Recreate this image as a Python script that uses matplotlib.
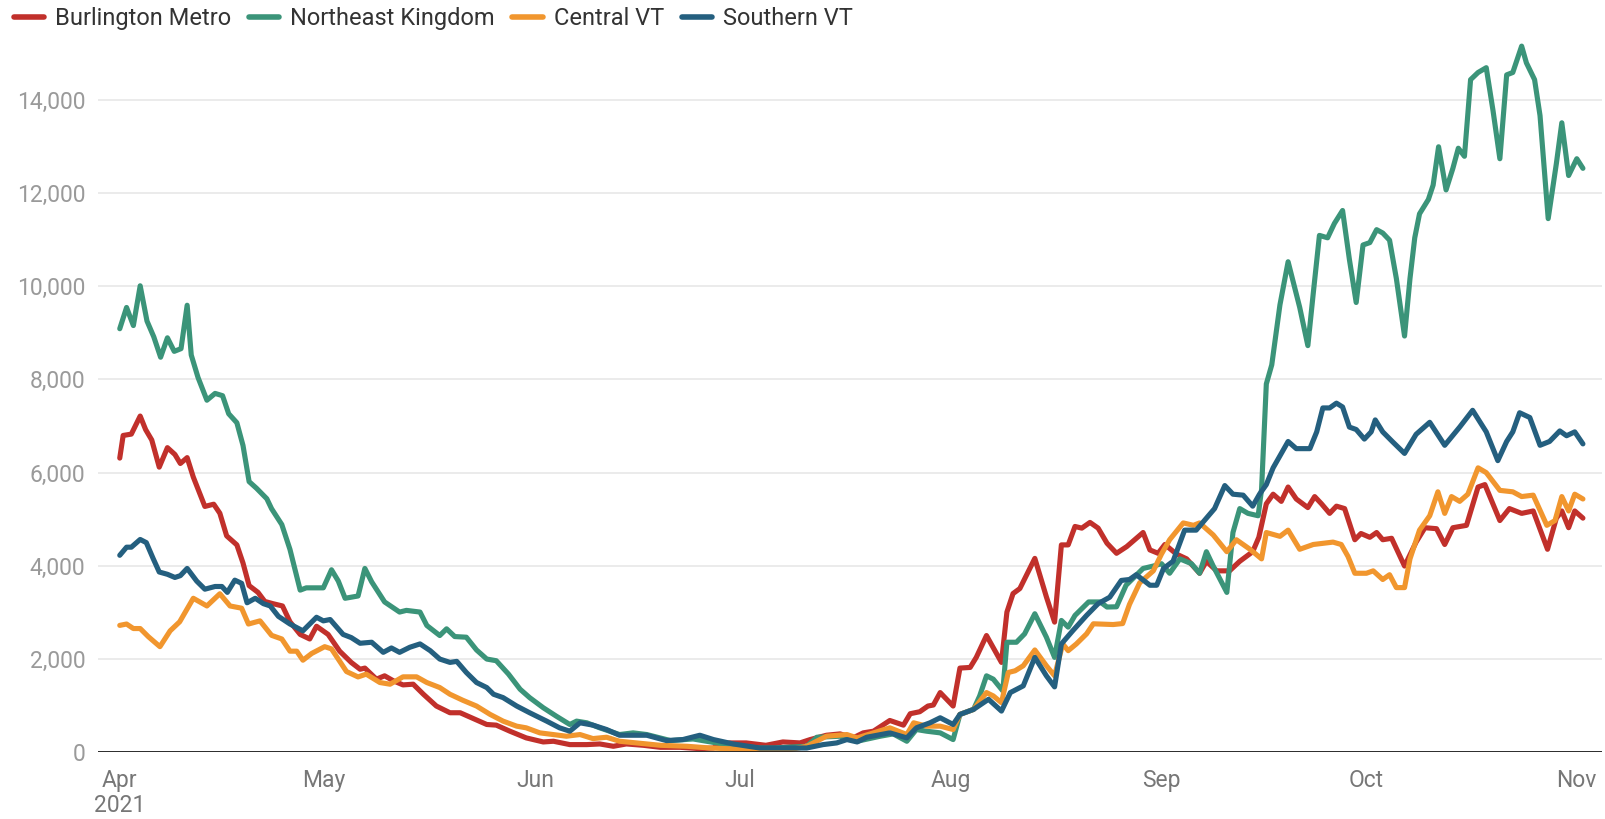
import matplotlib
matplotlib.use("Agg")
import matplotlib.pyplot as plt
import matplotlib.dates as mdates
from matplotlib.lines import Line2D
from datetime import datetime
import numpy as np

plt.rcParams['font.family'] = ['Roboto', 'DejaVu Sans']

# days since 2021-04-01
burlington_days = [0, 0.5, 1.7, 3, 3.8, 4.7, 5.8, 7, 8.1, 8.9, 9.9, 10.8, 12.5, 13.8, 14.7, 15.7, 17.2, 18.1, 19, 20.3,
                   21.3, 22.5, 23.9, 25, 26.5, 27.9, 28.9, 30.6, 32.3, 34, 35.3, 36, 37.7, 38.9, 40.2, 41.6, 43.1, 44.6,
                   46.5, 48.5, 50, 51.9, 53.9, 55.3, 57.3, 59.7, 62.2, 63.7, 66.1, 68.6, 70.5, 72.5, 74.4, 76.9, 79.4,
                   82.3, 85.2, 87.2, 88.1, 89.6, 92, 94.9, 97.4, 99.9, 101.4, 103.8, 105.8, 107.7, 109.2, 110.7, 113.1,
                   115.1, 116.1, 117.5, 118.7, 119.5, 120.5, 122.4, 123.4, 124.9, 125.8, 127.3, 129.5, 130.3, 131.2,
                   132.2, 134.4, 136.1, 137.3, 138.3, 139.3, 140.3, 141.3, 142.5, 143.7, 145, 146.4, 147.9, 150.3,
                   151.3, 152.5, 153.5, 155.2, 156.7, 158.6, 159.6, 161.1, 163, 164.5, 166.4, 167.3, 168.4, 169.4,
                   170.6, 171.6, 172.8, 174.5, 175.5, 176.5, 177.7, 178.7, 179.9, 181.4, 182.3, 183.6, 184.6, 185.5,
                   186.8, 188.7, 190.4, 191.7, 193.4, 194.6, 195.8, 197.8, 199.5, 200.5, 202.7, 204.1, 205.9, 207.6,
                   209.7, 211, 211.8, 212.8, 213.7, 214.9]
burlington_vals = [6311, 6797, 6826, 7214, 6923, 6700, 6117, 6535, 6389, 6195, 6321, 5904, 5273, 5321, 5127, 4641, 4447,
                   4059, 3573, 3428, 3233, 3185, 3136, 2796, 2525, 2427, 2700, 2525, 2165, 1923, 1777, 1802, 1564, 1636,
                   1528, 1441, 1456, 1240, 987, 843, 843, 721, 591, 577, 447, 303, 216, 231, 159, 159, 173, 123, 173,
                   144, 101, 101, 72, 86, 173, 195, 195, 144, 216, 195, 267, 360, 389, 303, 411, 447, 677, 577, 822, 865,
                   987, 1009, 1276, 987, 1802, 1816, 2032, 2501, 1924, 3005, 3402, 3510, 4158, 3330, 2789, 4447, 4447,
                   4843, 4807, 4930, 4807, 4483, 4267, 4411, 4713, 4339, 4267, 4456, 4250, 4147, 3838, 4095, 3890, 3890,
                   4095, 4301, 4610, 5330, 5536, 5382, 5690, 5433, 5248, 5485, 5330, 5124, 5279, 5227, 4558, 4692, 4610,
                   4713, 4558, 4589, 3993, 4507, 4816, 4795, 4456, 4816, 4867, 5690, 5742, 4970, 5227, 5124, 5176, 4353,
                   5022, 5176, 4816, 5176, 5022]

nek_days = [0, 1, 2, 3, 4, 5, 6, 7, 8, 9, 9.9, 10.5, 11.5, 12.8, 14, 15.1, 16, 17.2, 18.1, 19, 20.1, 21.6, 22.3, 23.8,
            25, 26.5, 27.4, 29.9, 31.1, 32.1, 33.1, 35, 36, 37, 38.9, 41.1, 42.1, 44.1, 45.1, 47, 48, 49.2, 50.9, 52.4,
            53.9, 55.3, 57.1, 58.8, 60.2, 62.2, 64.1, 66.1, 67.1, 68.6, 70.5, 73.4, 75.4, 77.4, 80.9, 84.2, 89.1, 94,
            96, 100.9, 102.4, 105.8, 108.3, 111.7, 113.6, 115.6, 117, 118.5, 120.5, 122.4, 123.4, 125.4, 126.3, 127.3,
            128.3, 129.7, 130.3, 131.7, 132.9, 134.4, 136.1, 137.3, 138.3, 139.3, 140.3, 142.3, 144, 145, 146.4, 147.8,
            150.3, 151.8, 153, 154.2, 155.7, 157.4, 158.6, 159.6, 160.6, 162.6, 163.5, 164.5, 165.7, 167.2, 167.7,
            168.4, 169.2, 170.4, 171.6, 173.3, 174.5, 175.3, 176.2, 177.4, 178.4, 179.6, 180.6, 181.6, 182.6, 183.6,
            184.6, 185.5, 186.5, 187.5, 188.7, 189.5, 190.2, 190.9, 192.2, 192.9, 193.7, 194.8, 195.8, 196.6, 197.5,
            198.4, 199.5, 200.7, 201.7, 202.7, 203.7, 204.6, 205.9, 206.6, 207.8, 208.6, 209.8, 211, 211.8, 212.8,
            214, 214.9]
nek_vals = [9089, 9545, 9157, 10011, 9254, 8914, 8477, 8894, 8603, 8661, 9593, 8525, 8040, 7554, 7700, 7651, 7263, 7070,
            6583, 5806, 5661, 5438, 5224, 4884, 4350, 3476, 3525, 3525, 3913, 3670, 3301, 3350, 3942, 3654, 3222, 3005,
            3041, 3005, 2717, 2501, 2645, 2479, 2465, 2191, 1996, 1960, 1672, 1348, 1168, 951, 771, 591, 663, 627, 519,
            375, 411, 375, 245, 280, 159, 86, 86, 123, 317, 339, 231, 339, 389, 231, 483, 447, 411, 267, 807, 915,
            1204, 1636, 1564, 1312, 2357, 2357, 2537, 2969, 2465, 2032, 2825, 2681, 2933, 3222, 3222, 3113, 3118, 3581,
            3941, 3993, 4044, 3838, 4147, 4044, 3838, 4301, 3993, 3427, 4713, 5227, 5124, 5073, 5639, 7903, 8314, 9601,
            10527, 9549, 8726, 9858, 11093, 11041, 11350, 11628, 10578, 9652, 10887, 10938, 11216, 11144, 10990, 10166,
            8932, 10166, 11041, 11556, 11864, 12173, 12996, 12070, 12533, 12965, 12791, 14437, 14591, 14694, 13768,
            12739, 14540, 14591, 15157, 14797, 14437, 13665, 11453, 12636, 13511, 12379, 12739, 12533]

central_days = [0, 1, 2, 3, 4.2, 5.9, 7.4, 8.8, 10.8, 12.8, 14.7, 16.2, 17.9, 18.9, 20.6, 22.3, 23.8, 25, 26, 26.9,
                28.2, 30.1, 31.1, 33.3, 35, 36.2, 38.2, 39.7, 41.6, 43.6, 45.1, 47, 48.5, 50.4, 52.4, 54.4, 56.3, 58.3,
                59.7, 61.7, 63.7, 65.6, 67.6, 69.5, 71.5, 73.4, 75.9, 79.4, 83.3, 86.7, 89.1, 94, 98.4, 100.9, 103.8,
                106.8, 108.3, 110.7, 113.1, 115.6, 116.6, 118.5, 120.5, 122.4, 123.4, 125.4, 127.3, 128.3, 129.5, 130.5,
                131.5, 132.7, 134.4, 136.1, 137.3, 138.5, 139.3, 140.5, 142, 143, 145.9, 147.3, 148.3, 149.8, 151.8,
                153, 154.2, 156.2, 157.7, 158.6, 160.6, 162.6, 164, 166, 167.7, 168.4, 170.4, 171.6, 173.3, 175.3,
                178.2, 179.4, 180.4, 181.4, 183.1, 184.1, 185.5, 186.5, 187.5, 188.7, 189.5, 190.9, 192.4, 193.6,
                194.6, 195.6, 196.8, 198, 199.5, 200.7, 202.7, 204.6, 205.9, 207.6, 209.6, 210.8, 211.8, 212.8, 213.7,
                214.9]
central_vals = [2719, 2748, 2651, 2651, 2476, 2262, 2602, 2796, 3301, 3136, 3398, 3136, 3088, 2748, 2816, 2505, 2427,
                2165, 2165, 1971, 2117, 2262, 2214, 1728, 1612, 1672, 1492, 1456, 1614, 1614, 1492, 1384, 1240, 1110,
                987, 807, 663, 555, 519, 411, 375, 339, 375, 288, 317, 231, 195, 144, 123, 86, 72, 50, 50, 123, 339,
                375, 303, 411, 519, 375, 627, 555, 555, 483, 807, 915, 1276, 1204, 1059, 1708, 1744, 1852, 2191, 1852,
                1636, 2321, 2176, 2321, 2537, 2753, 2737, 2758, 3169, 3632, 3890, 4250, 4558, 4919, 4867, 4919, 4661,
                4301, 4558, 4353, 4147, 4713, 4631, 4764, 4353, 4456, 4507, 4456, 4198, 3838, 3838, 3890, 3704, 3807,
                3530, 3530, 4147, 4764, 5073, 5587, 5124, 5485, 5382, 5536, 6102, 5999, 5618, 5587, 5485, 5515, 4867,
                4970, 5485, 5176, 5536, 5433]

southern_days = [0, 1, 1.7, 3, 3.9, 4.9, 5.8, 7, 8.1, 8.9, 9.9, 11.3, 12.5, 14, 15, 15.8, 16.9, 17.9, 18.7, 19.9,
                 21.1, 22.1, 23.3, 25, 26.9, 28.9, 29.9, 30.9, 32.8, 34, 35.3, 37, 38.7, 39.9, 41.1, 42.6, 44.1, 45.6,
                 47, 48.5, 49.5, 50.9, 52.4, 53.9, 54.9, 56.3, 58.3, 60.2, 62.7, 64.6, 66.1, 67.6, 69.5, 71.5, 73.4,
                 75.4, 77.4, 80.3, 82.7, 85.2, 87.2, 90.1, 94, 98.4, 100.9, 103.3, 105.3, 106.8, 108.3, 109.7, 113.1,
                 115.6, 117, 119, 120.5, 122.4, 123.4, 125.4, 127.6, 129.5, 130.8, 132.7, 134.4, 136.1, 137.3, 138.3,
                 140, 142, 143.7, 145.4, 147.1, 148.3, 149.3, 151.3, 152.3, 153.3, 154.7, 156.4, 158.1, 159.6, 160.8,
                 162.3, 163.5, 165, 166.4, 167.4, 168.4, 169.4, 171.6, 172.8, 174.8, 175.8, 176.7, 177.7, 178.7, 179.6,
                 180.6, 181.6, 182.8, 183.8, 184.4, 185.5, 186.9, 188.7, 190.4, 192.4, 194.6, 196.8, 198.7, 200.7,
                 202.4, 203.7, 204.6, 205.6, 207.1, 208.6, 210, 211.5, 212.5, 213.7, 214.9]
southern_vals = [4224, 4398, 4398, 4564, 4496, 4156, 3865, 3816, 3748, 3787, 3942, 3670, 3496, 3554, 3554, 3428, 3690,
                 3622, 3204, 3301, 3185, 3136, 2913, 2748, 2602, 2893, 2816, 2845, 2525, 2457, 2335, 2357, 2140, 2234,
                 2140, 2249, 2321, 2176, 1996, 1924, 1946, 1708, 1492, 1384, 1240, 1168, 987, 843, 663, 519, 447, 627,
                 577, 483, 360, 360, 360, 245, 267, 360, 267, 173, 86, 86, 86, 159, 195, 267, 216, 317, 411, 303, 519,
                 627, 735, 591, 807, 915, 1132, 879, 1276, 1420, 2032, 1636, 1398, 2321, 2609, 2933, 3186, 3324, 3684,
                 3704, 3807, 3581, 3581, 3941, 4095, 4764, 4764, 5022, 5227, 5721, 5536, 5515, 5279, 5536, 5742, 6102,
                 6668, 6514, 6514, 6874, 7388, 7388, 7491, 7409, 6977, 6925, 6719, 6874, 7131, 6874, 6668, 6411, 6822,
                 7080, 6586, 6977, 7337, 6874, 6256, 6668, 6874, 7285, 7182, 6586, 6668, 6894, 6791, 6874, 6616]

series_names = ["Burlington Metro", "Northeast Kingdom", "Central VT", "Southern VT"]
series_colors = ["#c1302b", "#3b9479", "#f1962e", "#245f7f"]

month_starts = ["2021-04-01", "2021-05-01", "2021-06-01", "2021-07-01", "2021-08-01",
                "2021-09-01", "2021-10-01", "2021-11-01"]
month_labels = ["Apr\n2021", "May", "Jun", "Jul", "Aug", "Sep", "Oct", "Nov"]
y_ticks = [0, 2000, 4000, 6000, 8000, 10000, 12000, 14000]

start = mdates.date2num(datetime(2021, 4, 1))

fig = plt.figure(figsize=(16.06, 8.19), dpi=100)
ax = fig.add_axes([0.061, 0.0818, 0.9365, 0.8757])

all_days = [burlington_days, nek_days, central_days, southern_days]
all_vals = [burlington_vals, nek_vals, central_vals, southern_vals]
for days, vals, color in zip(all_days, all_vals, series_colors):
    ax.plot(start + np.array(days), vals, color=color, lw=3.7,
            solid_joinstyle='round', solid_capstyle='round', zorder=3)

ax.set_ylim(0, 15400)
ax.set_xlim(start - 3.2, start + 217.7)
ax.set_yticks(y_ticks)
ax.set_yticklabels([f"{v:,}" for v in y_ticks])
ax.set_xticks([mdates.date2num(datetime.strptime(d, "%Y-%m-%d")) for d in month_starts])
ax.set_xticklabels(month_labels)

ax.grid(axis='y', color='#e6e6e6', lw=1.1, zorder=0)
ax.axhline(0, color='#1a1a1a', lw=2.0, zorder=4)
for s in ax.spines.values():
    s.set_visible(False)
ax.tick_params(axis='y', length=0, pad=9, labelsize=16.5, labelcolor='#9a9a9a')
ax.tick_params(axis='x', length=0, pad=12, labelsize=16.5, labelcolor='#777777')
for lab in ax.get_xticklabels():
    lab.set_linespacing(1.15)

handles = [Line2D([0], [0], color=c, lw=4, solid_capstyle='round') for c in series_colors]
fig.legend(handles, series_names, loc='upper left', bbox_to_anchor=(0.004, 1.0),
           ncol=4, frameon=False, fontsize=17, handlelength=1.3, handletextpad=0.45,
           columnspacing=0.75, borderaxespad=0.2, borderpad=0.1, labelcolor='#333333')

fig.savefig("out.png", dpi=100)
